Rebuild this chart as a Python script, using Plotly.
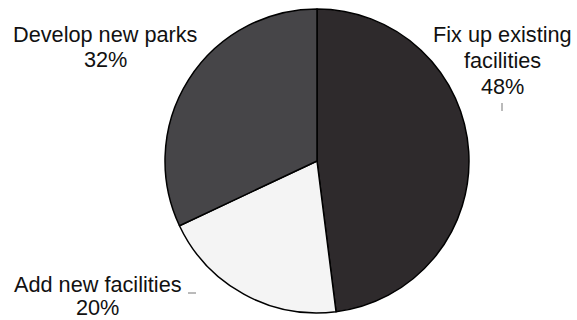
import plotly.graph_objects as go

# Survey responses: preferred use of park funding
labels = ["Fix up existing facilities", "Add new facilities", "Develop new parks"]
label_lines = [["Fix up existing", "facilities"], ["Add new facilities"], ["Develop new parks"]]
shares = [48, 20, 32]
colors = ["#2e2a2c", "#f4f4f4", "#464548"]

W, H = 577, 320
cx, cy, r = 317, 161, 152

fig = go.Figure(
    go.Pie(
        labels=labels,
        values=shares,
        sort=False,
        direction="clockwise",
        rotation=0,
        marker=dict(colors=colors, line=dict(color="#000000", width=1.5)),
        textinfo="none",
        hoverinfo="label+percent",
        showlegend=False,
        domain=dict(
            x=[(cx - r) / W, (cx + r) / W],
            y=[(H - cy - r) / H, (H - cy + r) / H],
        ),
    )
)

font = dict(family="Liberation Sans, Arial, sans-serif", size=21.7, color="#111111")

# label anchor: centre x and baseline of the first line (pixels from top-left),
# followed by the baseline step between lines
label_pos = [(502, 41.7, 26.2), (97.5, 292, 23), (105, 41.7, 25)]
for lines, val, (px, base, step) in zip(label_lines, shares, label_pos):
    rows = lines + [f"{val}%"]
    for i, row in enumerate(rows):
        b = base + i * step
        fig.add_annotation(
            x=px / W, y=1 - (b - 7.5) / H, xref="paper", yref="paper",
            text=row, showarrow=False,
            xanchor="center", yanchor="middle", align="center", font=font,
        )

# short leader ticks beside the outside labels
fig.add_shape(type="line", xref="paper", yref="paper",
              x0=502 / W, x1=502 / W, y0=1 - 103 / H, y1=1 - 111 / H,
              line=dict(color="#777777", width=1))
fig.add_shape(type="line", xref="paper", yref="paper",
              x0=188 / W, x1=196 / W, y0=1 - 293 / H, y1=1 - 293 / H,
              line=dict(color="#777777", width=1))

fig.update_layout(
    width=W, height=H,
    margin=dict(l=0, r=0, t=0, b=0),
    paper_bgcolor="white", plot_bgcolor="white",
)

fig.write_html("out.html")
